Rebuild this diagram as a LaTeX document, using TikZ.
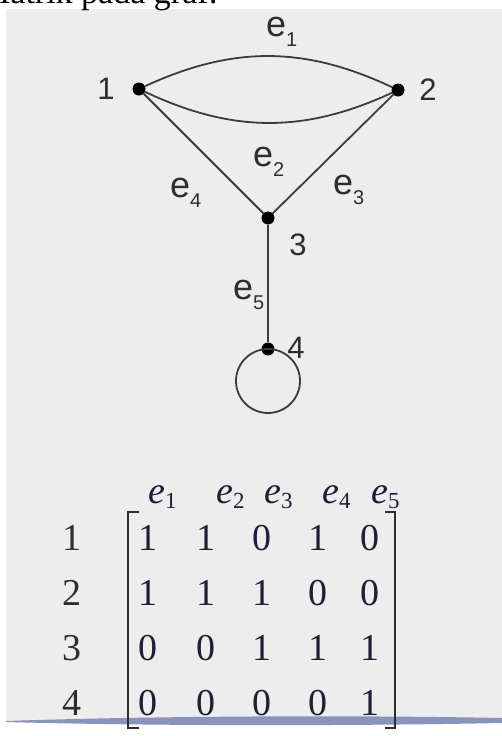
\documentclass[tikz,border=0pt]{standalone}
\usepackage{fontspec}
\setmainfont{Liberation Serif}
\newfontfamily\graphfont{Liberation Sans}
\usepackage{tikz}
\usetikzlibrary{positioning,calc}
\definecolor{panelgray}{HTML}{EDEDED}
\definecolor{edgegray}{HTML}{3C3C3C}
\definecolor{labgray}{HTML}{2E2E2E}
\definecolor{rulebluegray}{HTML}{8A92BE}
\definecolor{inkblue}{HTML}{1E1E36}
\newcommand{\elab}[1]{e\raisebox{-10pt}{\fontsize{20}{20}\selectfont #1}}
\newcommand{\colhead}[1]{\textit{e}\raisebox{-5pt}{\fontsize{23}{23}\selectfont #1}}

\begin{document}
\begin{tikzpicture}[x=1pt, y=-1pt,
  vertex/.style={circle, fill=black, inner sep=0pt, minimum size=13pt},
  edge/.style={draw=edgegray, line width=1.8pt},
  vlab/.style={text=labgray, font=\graphfont\fontsize{31}{33}\selectfont, inner sep=0pt},
  elabel/.style={text=labgray, font=\graphfont\fontsize{36}{38}\selectfont, inner sep=0pt, anchor=base west},
  entry/.style={text=inkblue, font=\fontsize{38}{40}\selectfont, inner sep=0pt, anchor=base},
  bracket/.style={draw=labgray, line width=1.8pt}]
\useasboundingbox (0,0) rectangle (502,736);
% slide panel and cut-off heading
\fill[panelgray] (6,9) rectangle (502,721);
\node[anchor=base west, font=\fontsize{34}{36}\selectfont, inner sep=0pt] (title) at (-20,3) {Matrik pada graf:};
% graph
\node[vertex] (v1) at (139,89) {};
\node[vertex] (v2) at (398,90) {};
\node[vertex] (v3) at (268,218) {};
\node[vertex] (v4) at (268,349) {};
\coordinate (loopc) at (268,381);
\draw[edge] (v1) to[bend left=25] (v2);
\draw[edge] (v1) to[bend right=25] (v2);
\draw[edge] (v2) -- (v3);
\draw[edge] (v1) -- (v3);
\draw[edge] (v3) -- (v4);
\draw[edge] (loopc) circle[radius=32pt];
\node[vlab] (l1) at (106,89) {1};
\node[vlab] (l2) at (428,90) {2};
\node[vlab] (l3) at (298,245) {3};
\node[vlab] (l4) at (296,348) {4};
\node[elabel] (e1) at (266,36) {\elab{1}};
\node[elabel] (e2) at (253,166) {\elab{2}};
\node[elabel] (e3) at (333,194) {\elab{3}};
\node[elabel] (e4) at (170,197) {\elab{4}};
\node[elabel] (e5) at (233,299) {\elab{5}};
% bluish rule across the slide
\fill[rulebluegray] (6,721) .. controls (150,716) and (350,715) .. (502,718)
  -- (502,723) .. controls (350,726) and (150,726) .. (6,722) -- cycle;
% incidence matrix
\foreach \c/\x in {1/148,2/216,3/264,4/322,5/371}
  \node[entry, anchor=base west] (h\c) at (\x,503) {\colhead{\c}};
\foreach \r/\y/\vals in {1/550/{1,1,0,1,0}, 2/605/{1,1,1,0,0},
                        3/660/{0,0,1,1,1}, 4/715/{0,0,0,0,1}} {
  \node[entry, text=labgray] (r\r) at (72,\y) {\r};
  \foreach \v [count=\c] in \vals {
    \pgfmathsetmacro{\cx}{{148,206,262,318,370}[\c-1]}
    \node[entry] (m\r\c) at (\cx,\y) {\v};
  }
}
\draw[bracket] (139,512) -- (128,512) -- (128,728) -- (139,728);
\draw[bracket] (385,512) -- (395,512) -- (395,728) -- (385,728);
\end{tikzpicture}
\end{document}
